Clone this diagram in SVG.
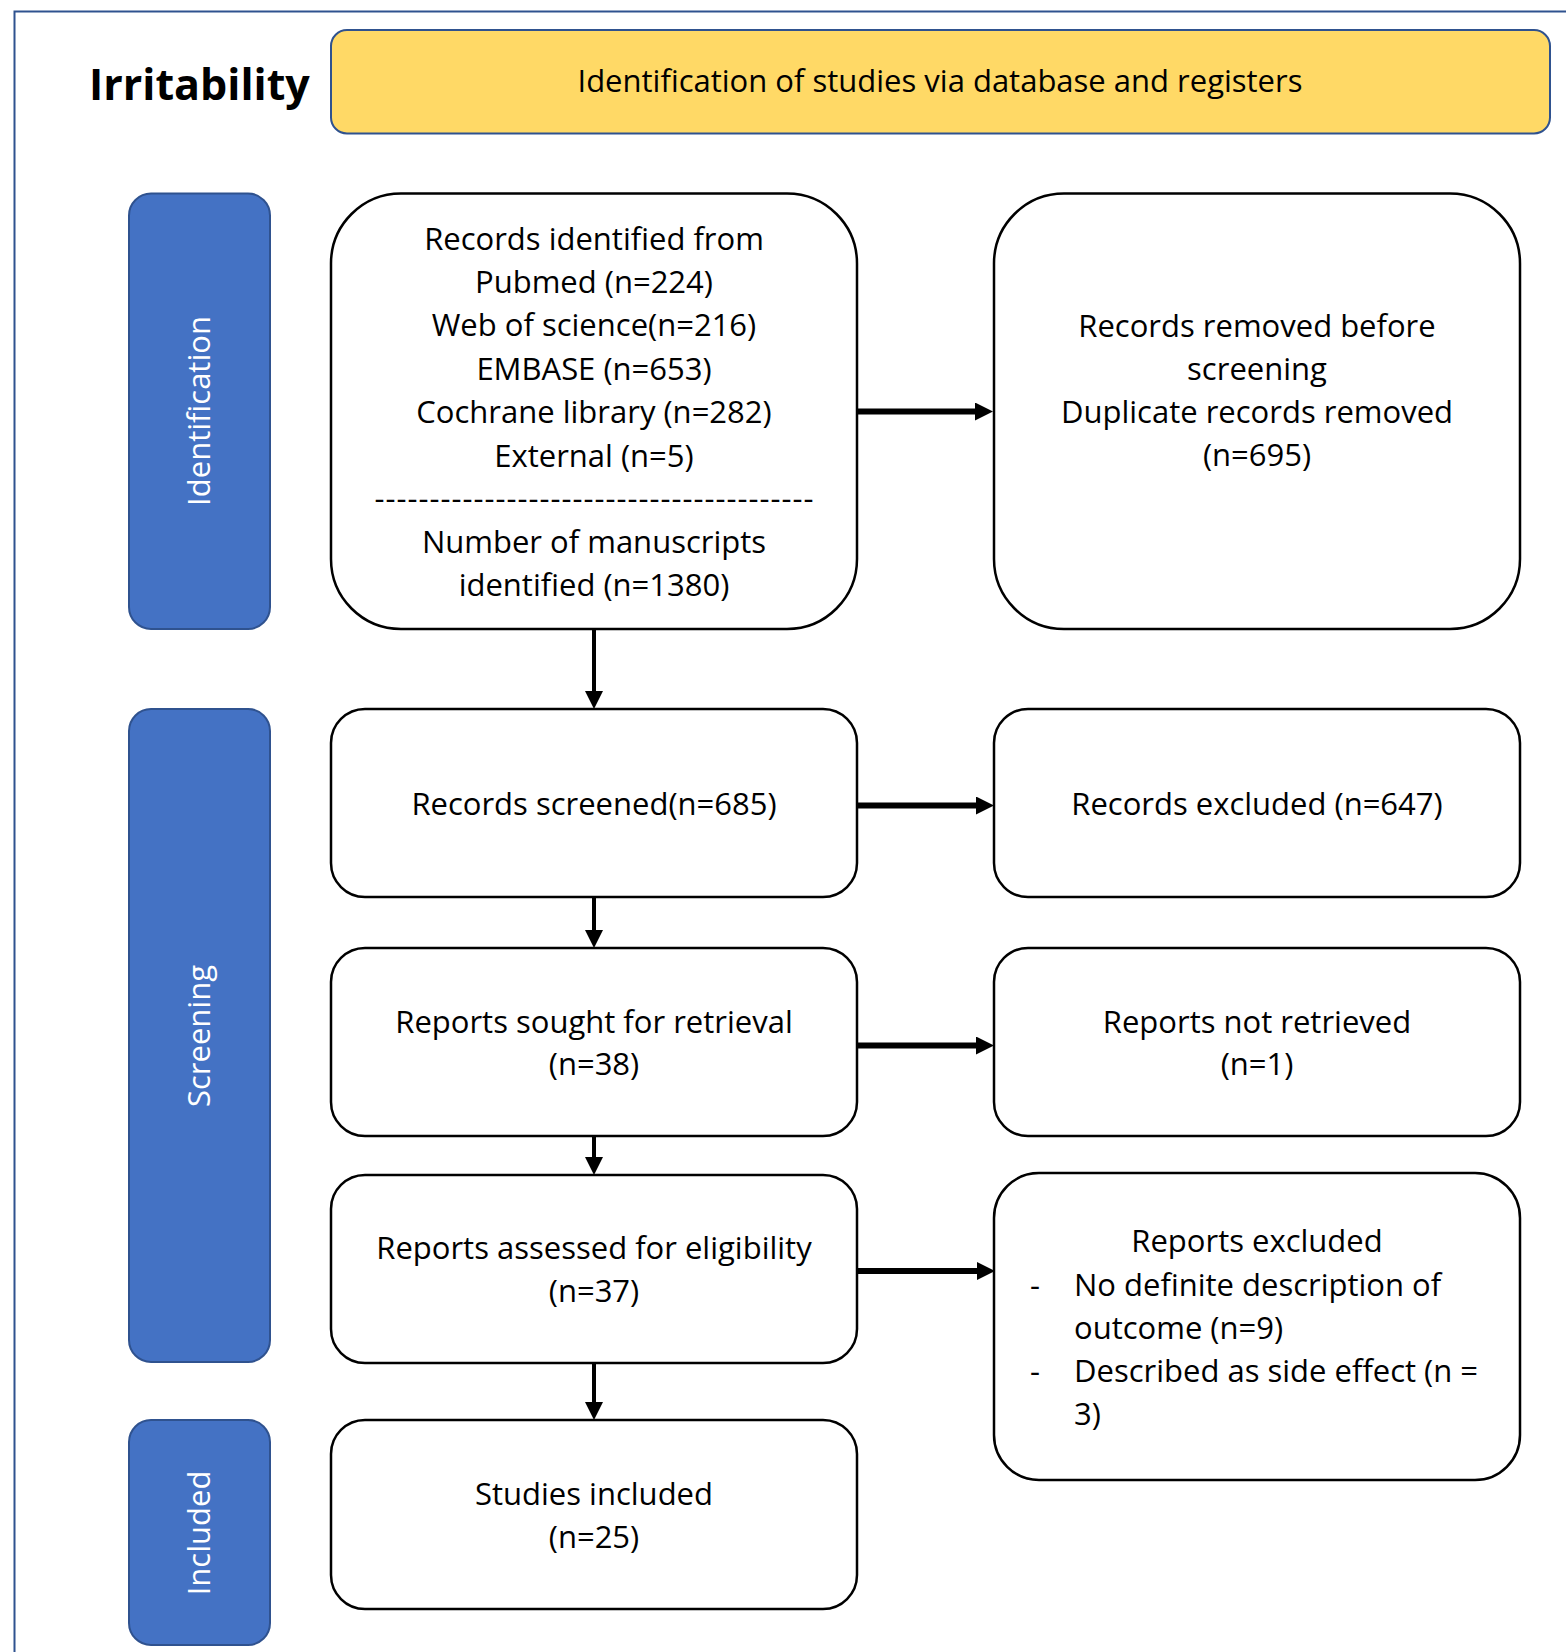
<svg xmlns="http://www.w3.org/2000/svg" width="1566" height="1652" viewBox="0 0 1566 1652">
<defs>
<style>
.t{font-family:"Open Sans","Noto Sans","DejaVu Sans",sans-serif;font-size:31px;fill:#000;text-anchor:middle}
.tl{font-family:"Open Sans","Noto Sans","DejaVu Sans",sans-serif;font-size:31px;fill:#000;text-anchor:start}
.lab{font-family:"Open Sans","Noto Sans","DejaVu Sans",sans-serif;font-size:31px;fill:#fff;text-anchor:middle}
.box{fill:#fff;stroke:#000;stroke-width:2.5}
.side{fill:#4472C4;stroke:#2F528F;stroke-width:2}
.h{stroke:#000;stroke-width:6;fill:none}
.v{stroke:#000;stroke-width:4;fill:none}
</style>
<marker id="ah" markerUnits="userSpaceOnUse" markerWidth="18" markerHeight="18" viewBox="0 0 18 18" refX="0" refY="9" orient="auto">
<path d="M0,0 L18,9 L0,18 z" fill="#000"/>
</marker>
</defs>
<rect x="0" y="0" width="1566" height="1652" fill="#fff"/>
<rect id="frame" x="14.5" y="11.5" width="1700" height="1800" fill="none" stroke="#2F528F" stroke-width="2"/>

<g id="title">
<text x="89" y="100" style="font-family:'Open Sans','Noto Sans',sans-serif;font-size:43px;font-weight:bold;fill:#000">Irritability</text>
</g>
<g id="header">
<rect x="331" y="30" width="1219" height="103.5" rx="16" fill="#FFD966" stroke="#2F528F" stroke-width="2"/>
<text class="t" x="940" y="92">Identification of studies via database and registers</text>
</g>

<g id="lab-identification">
<rect class="side" x="129" y="193.5" width="141" height="435.5" rx="22"/>
<text class="lab" transform="translate(210,411) rotate(-90)">Identification</text>
</g>
<g id="lab-screening">
<rect class="side" x="129" y="709" width="141" height="653" rx="22"/>
<text class="lab" transform="translate(210,1036) rotate(-90)">Screening</text>
</g>
<g id="lab-included">
<rect class="side" x="129" y="1420" width="141" height="225" rx="22"/>
<text class="lab" transform="translate(210,1533) rotate(-90)">Included</text>
</g>

<g id="n-identified">
<rect class="box" x="331" y="193.5" width="526" height="435.5" rx="70"/>
<text class="t" x="594" y="250">Records identified from</text>
<text class="t" x="594" y="293">Pubmed (n=224)</text>
<text class="t" x="594" y="336">Web of science(n=216)</text>
<text class="t" x="594" y="379.5">EMBASE (n=653)</text>
<text class="t" x="594" y="423">Cochrane library (n=282)</text>
<text class="t" x="594" y="466.5">External (n=5)</text>
<text class="t" x="594" y="509" textLength="439" lengthAdjust="spacing">----------------------------------------</text>
<text class="t" x="594" y="553">Number of manuscripts</text>
<text class="t" x="594" y="596">identified (n=1380)</text>
</g>
<g id="n-removed">
<rect class="box" x="994" y="193.5" width="526" height="435.5" rx="70"/>
<text class="t" x="1257" y="337">Records removed before</text>
<text class="t" x="1257" y="380">screening</text>
<text class="t" x="1257" y="423">Duplicate records removed</text>
<text class="t" x="1257" y="466">(n=695)</text>
</g>
<g id="n-screened">
<rect class="box" x="331" y="709" width="526" height="188" rx="34"/>
<text class="t" x="594" y="815">Records screened(n=685)</text>
</g>
<g id="n-excluded">
<rect class="box" x="994" y="709" width="526" height="188" rx="34"/>
<text class="t" x="1257" y="815">Records excluded (n=647)</text>
</g>
<g id="n-sought">
<rect class="box" x="331" y="948" width="526" height="188" rx="34"/>
<text class="t" x="594" y="1033">Reports sought for retrieval</text>
<text class="t" x="594" y="1075">(n=38)</text>
</g>
<g id="n-notretrieved">
<rect class="box" x="994" y="948" width="526" height="188" rx="34"/>
<text class="t" x="1257" y="1033">Reports not retrieved</text>
<text class="t" x="1257" y="1075">(n=1)</text>
</g>
<g id="n-assessed">
<rect class="box" x="331" y="1175" width="526" height="188" rx="34"/>
<text class="t" x="594" y="1259">Reports assessed for eligibility</text>
<text class="t" x="594" y="1302">(n=37)</text>
</g>
<g id="n-reportsexcluded">
<rect class="box" x="994" y="1173" width="526" height="307" rx="45"/>
<text class="t" x="1257" y="1252">Reports excluded</text>
<text class="tl" x="1030" y="1296">-</text>
<text class="tl" x="1074" y="1296">No definite description of</text>
<text class="tl" x="1074" y="1339">outcome (n=9)</text>
<text class="tl" x="1030" y="1382">-</text>
<text class="tl" x="1074" y="1382">Described as side effect (n =</text>
<text class="tl" x="1074" y="1425">3)</text>
</g>
<g id="n-included">
<rect class="box" x="331" y="1420" width="526" height="189" rx="34"/>
<text class="t" x="594" y="1505">Studies included</text>
<text class="t" x="594" y="1548">(n=25)</text>
</g>

<g id="connectors">
<line class="h" x1="857" y1="411.5" x2="975" y2="411.5" marker-end="url(#ah)"/>
<line class="h" x1="857" y1="805.5" x2="976" y2="805.5" marker-end="url(#ah)"/>
<line class="h" x1="857" y1="1045.5" x2="976" y2="1045.5" marker-end="url(#ah)"/>
<line class="h" x1="857" y1="1271" x2="977" y2="1271" marker-end="url(#ah)"/>
<line class="v" x1="594" y1="629" x2="594" y2="691" marker-end="url(#ah)"/>
<line class="v" x1="594" y1="897" x2="594" y2="930" marker-end="url(#ah)"/>
<line class="v" x1="594" y1="1136" x2="594" y2="1157" marker-end="url(#ah)"/>
<line class="v" x1="594" y1="1363" x2="594" y2="1402" marker-end="url(#ah)"/>
</g>
</svg>
